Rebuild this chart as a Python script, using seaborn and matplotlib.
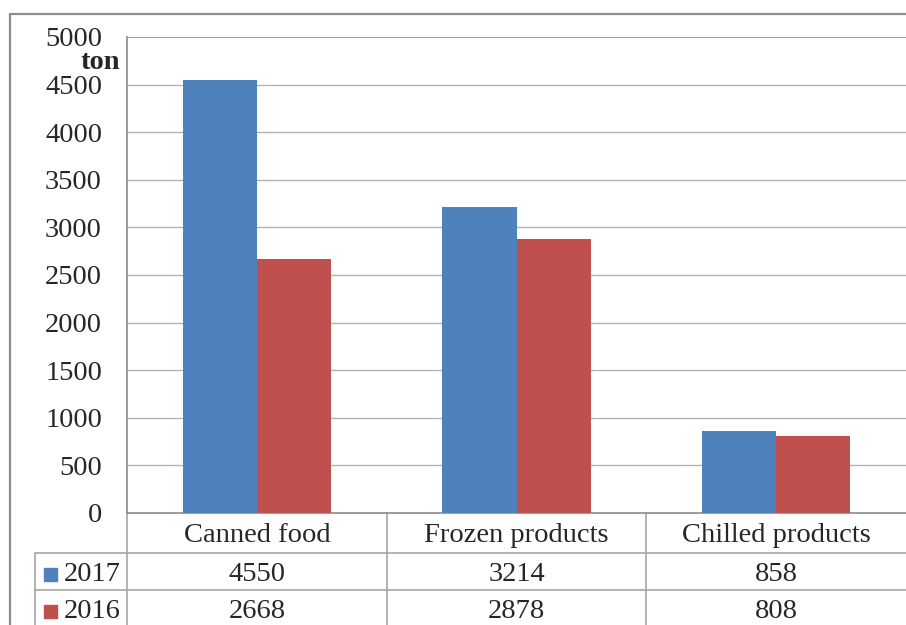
import pandas as pd
import seaborn as sns
import matplotlib.pyplot as plt
from matplotlib.patches import Rectangle

# dados
categorias = ['Canned food', 'Frozen products', 'Chilled products']
anos = ['2017', '2016']
valores_2017 = [4550, 3214, 858]
valores_2016 = [2668, 2878, 808]
cores = ['#4F81BD', '#C0504D']
yticks = [0, 500, 1000, 1500, 2000, 2500, 3000, 3500, 4000, 4500, 5000]

df = pd.DataFrame({
    'categoria': categorias * 2,
    'ano': ['2017'] * 3 + ['2016'] * 3,
    'valor': valores_2017 + valores_2016,
})

sns.set_theme(style='white')
plt.rcParams['font.family'] = ['Liberation Serif', 'DejaVu Serif']
fs = 20.5

fig = plt.figure(figsize=(9.06, 6.25), dpi=100)
ax = fig.add_axes([127 / 906, 112 / 625, 779 / 906, 476 / 625])

sns.barplot(data=df, x='categoria', y='valor', hue='ano', hue_order=anos,
            palette=cores, width=0.57, saturation=1, ax=ax, legend=False,
            linewidth=0, zorder=3)

ax.set_ylim(0, 5000)
ax.set_xlim(-0.5, 2.5)
ax.set_yticks(yticks)
ax.set_yticklabels([str(v) for v in yticks], fontsize=fs)
ax.tick_params(axis='y', length=0, pad=18)
ax.set_xticks([])
ax.set_xlabel('')
ax.set_ylabel('')
for v in yticks[1:-1]:
    ax.axhline(v, color='#B3B3B3', lw=1, zorder=1)
ax.axhline(5000, color='#8C8C8C', lw=1.2, zorder=1)
for lado in ['left', 'bottom']:
    ax.spines[lado].set_color('#8C8C8C')
    ax.spines[lado].set_linewidth(1.2)
ax.spines['top'].set_visible(False)
ax.spines['right'].set_visible(False)

ax.text(-0.009, 0.947, 'ton', transform=ax.transAxes, ha='right', va='center',
        fontsize=fs, fontweight='bold')

# tabela de dados
tr = ax.get_xaxis_transform()
linha_cor = '#A6A6A6'
y_cab = -0.084
y_l1 = -0.162
y_fim = -0.30
x_esq = -0.118
for b in [0.5, 1.5]:
    ax.plot([b, b], [0, y_fim], transform=tr, color=linha_cor, lw=1.2, clip_on=False)
ax.plot([0, 0], [0, y_fim], transform=ax.transAxes, color=linha_cor, lw=1.2, clip_on=False)
ax.plot([x_esq, x_esq], [y_cab, y_fim], transform=ax.transAxes, color=linha_cor, lw=1.2, clip_on=False)
for yy in [y_cab, y_l1]:
    ax.plot([x_esq, 1], [yy, yy], transform=ax.transAxes, color=linha_cor, lw=1.2, clip_on=False)

linhas_y = [(y_cab + y_l1) / 2 - 0.006, y_l1 + (y_l1 - y_cab) / 2 - 0.006]
for i, c in enumerate(categorias):
    ax.text(i, y_cab / 2 - 0.006, c, transform=tr, ha='center', va='center', fontsize=fs)
    ax.text(i, linhas_y[0], str(valores_2017[i]), transform=tr,
            ha='center', va='center', fontsize=fs)
    ax.text(i, linhas_y[1], str(valores_2016[i]), transform=tr,
            ha='center', va='center', fontsize=fs)

for ano, cor, yy in zip(anos, cores, linhas_y):
    ax.add_patch(Rectangle((-0.106, yy - 0.014), 0.0165, 0.027, transform=ax.transAxes,
                           color=cor, clip_on=False))
    ax.text(-0.081, yy, ano, transform=ax.transAxes, ha='left', va='center', fontsize=fs)

# borda externa
fig.patches.append(Rectangle((10 / 906, -0.1), 1.0, (625 - 14) / 625 + 0.1,
                             transform=fig.transFigure, fill=False,
                             edgecolor='#8C8C8C', lw=1.6))

fig.savefig('out.png', dpi=100)
